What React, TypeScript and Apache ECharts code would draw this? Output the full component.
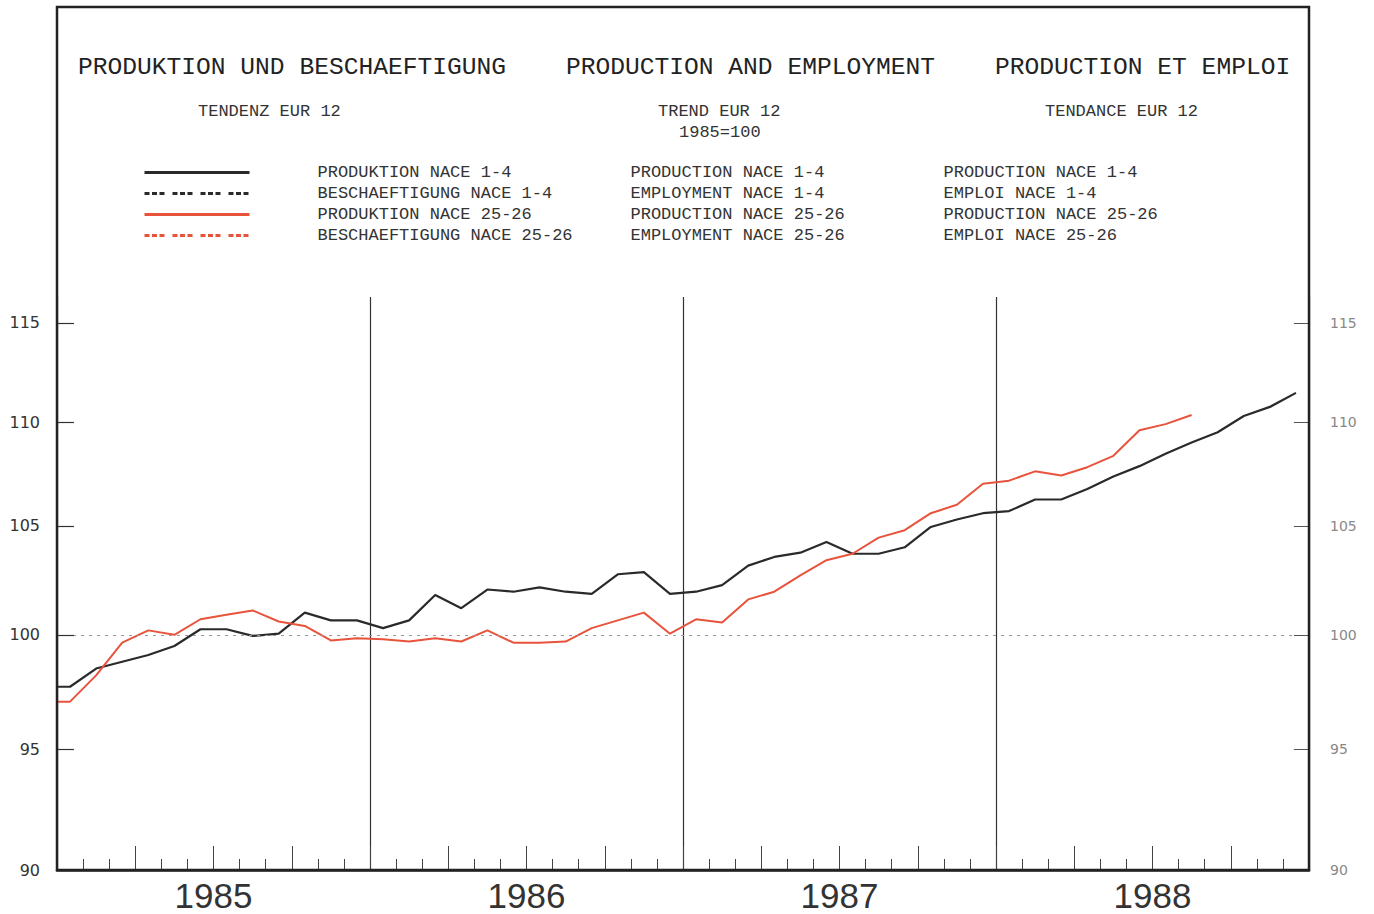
import React, { useEffect, useRef } from 'react';
import * as echarts from 'echarts';

const yearLabels = ['1985', '1986', '1987', '1988'];

// monthly values, Jan 1985 onwards (index 1985 = 100)
const prodNace14 = [
  97.7, 98.5, 98.8, 99.1, 99.5, 100.25, 100.25, 99.95, 100.05, 101.0, 100.65, 100.65,
  100.3, 100.65, 101.8, 101.2, 102.05, 101.95, 102.15, 101.95, 101.85, 102.75, 102.85, 101.85,
  101.95, 102.25, 103.15, 103.55, 103.75, 104.25, 103.7, 103.7, 104.0, 104.95, 105.3, 105.6,
  105.7, 106.25, 106.25, 106.75, 107.35, 107.85, 108.45, 109.0, 109.5, 110.3, 110.75, 111.45,
];
const emplNace14: number[] = [];
const prodNace2526 = [
  97.05, 98.2, 99.65, 100.2, 100.0, 100.7, 100.9, 101.1, 100.6, 100.4, 99.75, 99.85,
  99.8, 99.7, 99.85, 99.7, 100.2, 99.65, 99.65, 99.7, 100.3, 100.65, 101.0, 100.05,
  100.7, 100.55, 101.6, 101.95, 102.7, 103.4, 103.7, 104.45, 104.8, 105.6, 106.0, 107.0,
  107.15, 107.6, 107.4, 107.8, 108.35, 109.6, 109.9, 110.35,
];
const emplNace2526: number[] = [];

const yLabelValues = [90, 95, 100, 105, 110, 115];
const yTickValues = [95, 100, 105, 110, 115];
const baseValue = 100;
const MONTHS = 48;

const legendDE = ['PRODUKTION NACE 1-4', 'BESCHAEFTIGUNG NACE 1-4', 'PRODUKTION NACE 25-26', 'BESCHAEFTIGUNG NACE 25-26'];
const legendEN = ['PRODUCTION NACE 1-4', 'EMPLOYMENT NACE 1-4', 'PRODUCTION NACE 25-26', 'EMPLOYMENT NACE 25-26'];
const legendFR = ['PRODUCTION NACE 1-4', 'EMPLOI NACE 1-4', 'PRODUCTION NACE 25-26', 'EMPLOI NACE 25-26'];

const titleTexts = ['PRODUKTION UND BESCHAEFTIGUNG', 'PRODUCTION AND EMPLOYMENT', 'PRODUCTION ET EMPLOI'];
const subTexts = ['TENDENZ EUR 12', 'TREND EUR 12', '1985=100', 'TENDANCE EUR 12'];

const BLACK = '#2a2a2a';
const RED = '#e8533c';
const MONO = '"Liberation Mono", "DejaVu Sans Mono", monospace';

const toPoints = (arr: number[]) =>
  arr.length ? [[0, arr[0]], ...arr.map((v, i) => [i + 0.5, v])] : [];

export default function App() {
  const ref = useRef<HTMLDivElement>(null);
  useEffect(() => {
    if (!ref.current) return;
    const chart = echarts.init(ref.current, undefined, { renderer: 'svg' });
    const bigTitle = { fontFamily: MONO, fontSize: 24.6, fontWeight: 'normal', color: '#222' };
    const smallTitle = { fontFamily: MONO, fontSize: 17, fontWeight: 'normal', color: '#333' };
    const richBase = { fontFamily: MONO, fontSize: 17, color: '#333', lineHeight: 14 };
    const dotted = [5, 2.5, 5, 2.5, 5, 8];
    // inward tick marks on both y axes (length in month units: ~17px / ~15px)
    const tickL = 0.65;
    const tickR = 0.58;
    const tickStyle = { color: '#333', width: 1.2, type: 'solid' };
    const tickMarks = [
      ...yTickValues.map((v) => [
        { coord: [0, v], lineStyle: tickStyle }, { coord: [tickL, v] },
      ]),
      ...yTickValues.map((v) => [
        { coord: [MONTHS - tickR, v], lineStyle: { ...tickStyle, color: '#555', width: 1 } }, { coord: [MONTHS, v] },
      ]),
    ];
    chart.setOption({
      animation: false,
      backgroundColor: '#ffffff',
      title: [
        { text: titleTexts[0], left: 78, top: 55, padding: 0, textStyle: bigTitle },
        { text: titleTexts[1], left: 566, top: 55, padding: 0, textStyle: bigTitle },
        { text: titleTexts[2], left: 995, top: 55, padding: 0, textStyle: bigTitle },
        { text: subTexts[0], left: 198, top: 103, padding: 0, textStyle: smallTitle },
        { text: subTexts[1], left: 658, top: 103, padding: 0, textStyle: smallTitle },
        { text: subTexts[2], left: 679, top: 124, padding: 0, textStyle: smallTitle },
        { text: subTexts[3], left: 1045, top: 103, padding: 0, textStyle: smallTitle },
      ],
      legend: {
        orient: 'vertical',
        left: 143,
        top: 164,
        padding: 0,
        itemWidth: 105,
        itemHeight: 14,
        itemGap: 4,
        selectedMode: false,
        itemStyle: { opacity: 0 },
        lineStyle: { width: 3 },
        data: legendDE,
        textStyle: { ...richBase, rich: {
          s: { ...richBase, width: 63 },
          a: { ...richBase, width: 313 },
          b: { ...richBase, width: 313 },
          c: { ...richBase },
        } },
        formatter: (name: string) => {
          const i = legendDE.indexOf(name);
          return `{s| }{a|${legendDE[i]}}{b|${legendEN[i]}}{c|${legendFR[i]}}`;
        },
      },
      grid: { left: 57, right: 65, top: 297, bottom: 44 },
      xAxis: [
        {
          type: 'value', min: 0, max: MONTHS, interval: 3, position: 'bottom',
          axisLine: { show: true, onZero: false, lineStyle: { color: '#222', width: 2.5 } },
          axisTick: { show: true, inside: true, length: 24, lineStyle: { color: '#444', width: 1 } },
          minorTick: { show: true, splitNumber: 3, length: 11, lineStyle: { color: '#444', width: 1 } },
          axisLabel: { show: false },
          splitLine: { show: false },
        },
        {
          type: 'value', min: 0, max: MONTHS, interval: 12, position: 'bottom',
          axisLine: { show: false }, axisTick: { show: false }, axisLabel: { show: false },
          splitLine: { show: true, lineStyle: { color: '#333', width: 1.2 } },
        },
        {
          type: 'category', data: yearLabels, position: 'bottom', boundaryGap: true,
          axisLine: { show: false }, axisTick: { show: false },
          axisLabel: { fontFamily: '"Liberation Sans", sans-serif', fontSize: 35, lineHeight: 30, color: '#333', margin: 10 },
        },
      ],
      yAxis: [
        {
          type: 'log', logBase: 10, min: 90, max: 116.34, position: 'left',
          axisLine: { show: false }, splitLine: { show: false }, axisTick: { show: false },
          axisLabel: { customValues: yLabelValues, margin: 17, color: '#333', fontFamily: '"DejaVu Sans", sans-serif', fontSize: 16 },
        },
        {
          type: 'log', logBase: 10, min: 90, max: 116.34, position: 'right',
          axisLine: { show: false }, splitLine: { show: false }, axisTick: { show: false },
          axisLabel: { customValues: yLabelValues, margin: 21, color: '#888', fontFamily: '"DejaVu Sans", sans-serif', fontSize: 14 },
        },
      ],
      series: [
        {
          name: legendDE[0], type: 'line', xAxisIndex: 0, yAxisIndex: 0, symbol: 'none',
          data: toPoints(prodNace14), z: 3,
          lineStyle: { color: BLACK, width: 2.2 }, itemStyle: { color: BLACK },
          markLine: {
            silent: true, symbol: 'none', label: { show: false },
            lineStyle: { color: '#999', type: [3, 5], width: 1 },
            data: [{ yAxis: baseValue }, ...tickMarks],
          },
        },
        {
          name: legendDE[1], type: 'line', xAxisIndex: 0, yAxisIndex: 0, symbol: 'none',
          data: toPoints(emplNace14),
          lineStyle: { color: BLACK, width: 2, type: dotted }, itemStyle: { color: BLACK },
        },
        {
          name: legendDE[2], type: 'line', xAxisIndex: 0, yAxisIndex: 0, symbol: 'none',
          data: toPoints(prodNace2526), z: 4,
          lineStyle: { color: RED, width: 2 }, itemStyle: { color: RED },
        },
        {
          name: legendDE[3], type: 'line', xAxisIndex: 0, yAxisIndex: 0, symbol: 'none',
          data: toPoints(emplNace2526),
          lineStyle: { color: RED, width: 2, type: dotted }, itemStyle: { color: RED },
        },
      ],
      graphic: [
        {
          type: 'rect', z: 100, silent: true,
          shape: { x: 57, y: 7, width: 1252, height: 863 },
          style: { fill: 'none', stroke: '#222', lineWidth: 2.5 },
        },
      ],
    });
    return () => chart.dispose();
  }, []);
  return <div ref={ref} style={{ position: 'absolute', left: 0, top: 0, width: 1374, height: 914 }} />;
}
